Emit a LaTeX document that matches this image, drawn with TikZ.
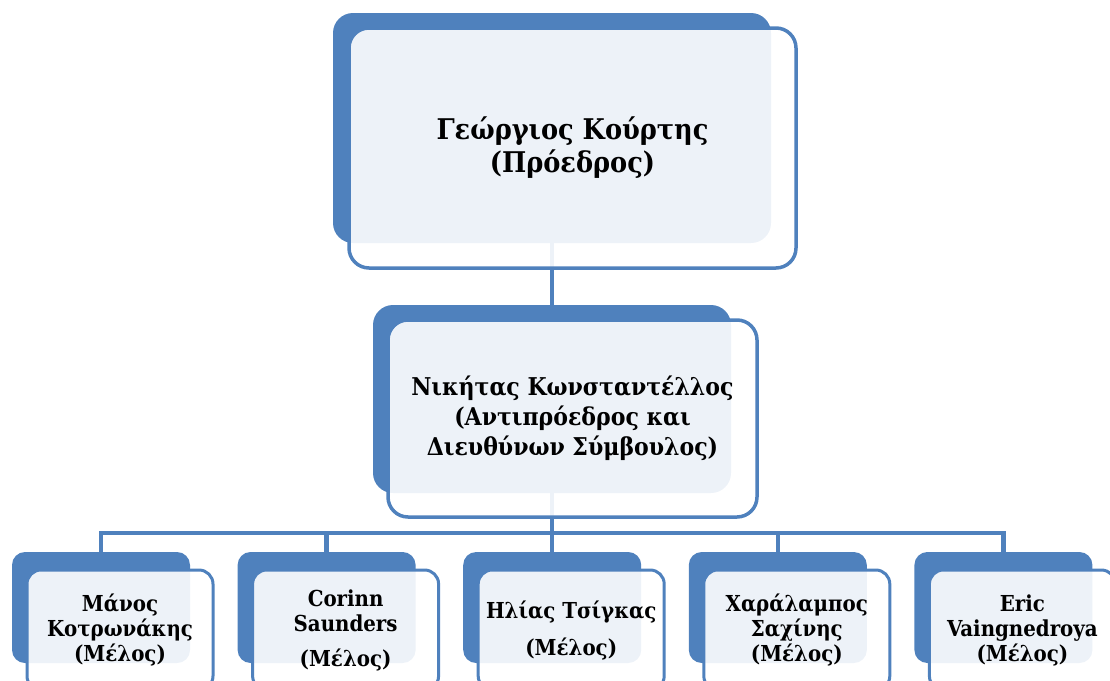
\documentclass[tikz,border=0pt]{standalone}
\usepackage{fontspec}
\setmainfont{DejaVu Serif Condensed}
\usetikzlibrary{positioning,backgrounds}
\definecolor{chartblue}{HTML}{4F81BD}

\begin{document}
\begin{tikzpicture}[
    x=1pt, y=-1pt,
    backbox/.style={rectangle, rounded corners=20pt, fill=chartblue, inner sep=0pt},
    frontbox/.style={rectangle, rounded corners=20pt, draw=chartblue, line width=3.5pt, fill=white, fill opacity=0.9, text opacity=1, align=center, inner sep=0pt},
    memberback/.style={backbox, rounded corners=13pt, minimum width=178pt, minimum height=111pt},
    memberfront/.style={frontbox, rounded corners=14pt, line width=3pt, minimum width=186pt, minimum height=120pt, font=\bfseries\fontsize{22}{25}\selectfont},
    link/.style={draw=chartblue, line width=4.5pt}
]
\useasboundingbox (0,0) rectangle (1110,680);

% president
\node (pres) [backbox, minimum width=438pt, minimum height=230pt] at (552,128) {};
\node (presf) [frontbox, minimum width=447pt, minimum height=240pt, font=\bfseries\fontsize{28.5}{33}\selectfont, shift={(20.5,20)}] at (pres) {Γεώργιος Κούρτης\\(Πρόεδρος)};

% vice president
\node (vice) [backbox, minimum width=358pt, minimum height=188pt] at (552,399) {};
\node (vicef) [frontbox, minimum width=369pt, minimum height=197pt, font=\bfseries\fontsize{24.5}{30}\selectfont, shift={(20.5,19.5)}] at (vice) {Νικήτας Κωνσταντέλλος\\(Αντιπρόεδρος και\\Διευθύνων Σύμβουλος)};

% members
\foreach \txt [count=\i from 0] in {{Μάνος\\Κοτρωνάκης\\(Μέλος)},
    {Corinn\\Saunders\\[10pt](Μέλος)},
    {Ηλίας Τσίγκας\\[12pt](Μέλος)},
    {Χαράλαμπος\\Σαχίνης\\(Μέλος)},
    {Eric\\Vaingnedroya\\(Μέλος)}} {
  \node (m\i) [memberback] at (101+225.6*\i,607.5) {};
  \node (m\i f) [memberfront, shift={(19,22.5)}] at (m\i) {\txt};
}

\coordinate (bar) at (552,533);
\begin{scope}[on background layer]
\draw [link] (pres) -- (vice);
\draw [link] (vice) -- (vice |- bar);
\foreach \i in {0,...,4}
  \draw [link] (vice |- bar) -| (m\i.north);
\end{scope}
\end{tikzpicture}
\end{document}
